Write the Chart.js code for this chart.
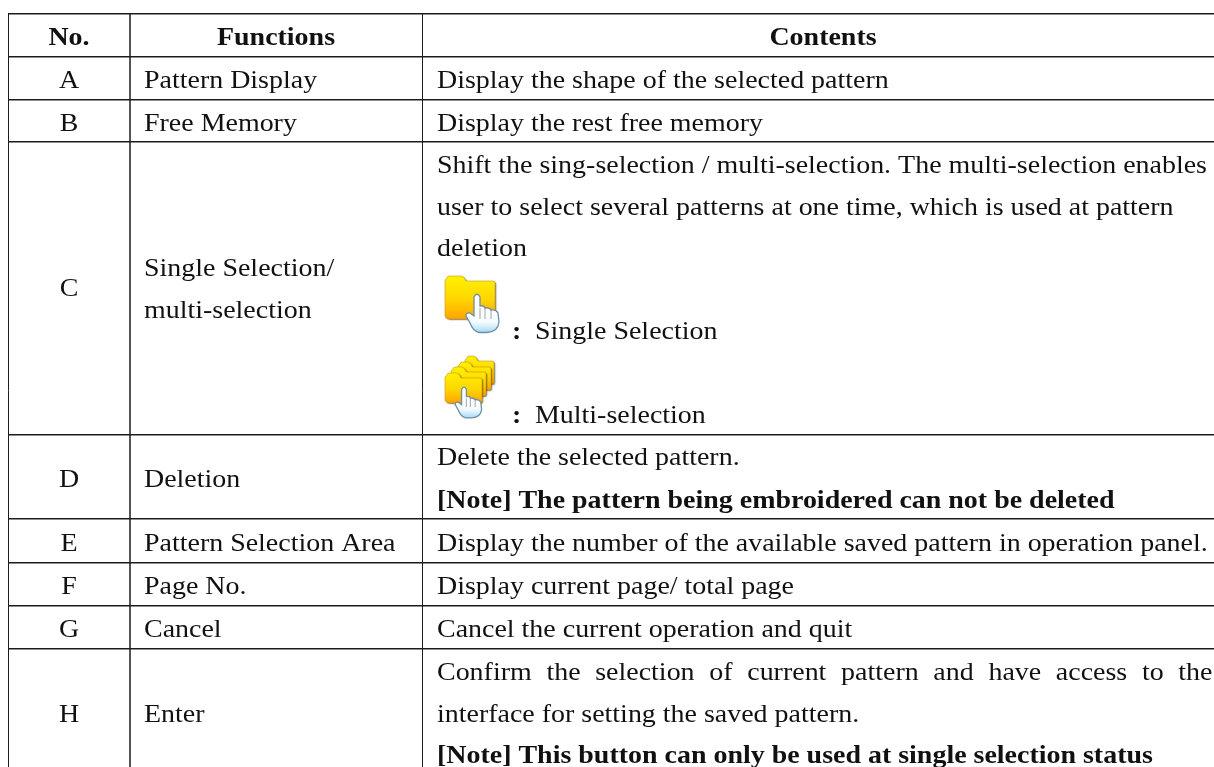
<!DOCTYPE html>
<html>
<head>
<meta charset="utf-8">
<title>Pattern functions</title>
<script src="https://cdn.jsdelivr.net/npm/chart.js@4/dist/chart.umd.min.js"></script>
<style>
  html, body { margin: 0; padding: 0; background: #fff; }
  canvas { display: block; }
</style>
</head>
<body>
<canvas id="chartTable" width="1214" height="767"></canvas>
<script>
// Table content
const headers = ['No.', 'Functions', 'Contents'];
const rowNos = ['A', 'B', 'C', 'D', 'E', 'F', 'G', 'H'];
const rowFunctions = [
  ['Pattern Display'],
  ['Free Memory'],
  ['Single Selection/', 'multi-selection'],
  ['Deletion'],
  ['Pattern Selection Area'],
  ['Page No.'],
  ['Cancel'],
  ['Enter']
];
const rowContents = [
  ['Display the shape of the selected pattern'],
  ['Display the rest free memory'],
  ['Shift the sing-selection / multi-selection. The multi-selection enables',
   'user to select several patterns at one time, which is used at pattern',
   'deletion'],
  ['Delete the selected pattern.', '[Note] The pattern being embroidered can not be deleted'],
  ['Display the number of the available saved pattern in operation panel.'],
  ['Display current page/ total page'],
  ['Cancel the current operation and quit'],
  ['Confirm the selection of current pattern and have access to the',
   'interface for setting the saved pattern.',
   '[Note] This button can only be used at single selection status']
];
const iconCaptions = ['Single Selection', 'Multi-selection'];

// Layout, in picture pixels (the axes run in the same units)
const colRules = [8.5, 130, 422.5];
const rowRules = [14, 57, 99.5, 142, 435, 519, 562.5, 605.5, 648.5];
const headerCentres = [69, 276, 823];
const headerBaseline = 44.5;
const noBaselines = [88, 130.5, 296, 487, 551, 594, 637, 722];
const funcBaselines = [[88], [130.5], [276, 318], [487], [551], [594], [637], [722]];
const contentBaselines = [[88], [130.5], [173, 215, 256], [465, 508], [551], [594], [637], [680, 722, 763]];
const noX = 69, funcX = 144, contentX = 437, colonX = 512, captionX = 535;
const captionBaselines = [339, 423];
const iconCentres = [{ x: 473, y: 306 }, { x: 473, y: 388 }];
const justifiedEnd = 1212.5;
const fontSize = 26, stretch = 1.075, inkColor = '#111';

function folder(ctx, x, y, w, h) {
  const tab = w * 0.38;
  const grad = ctx.createLinearGradient(0, y, 0, y + h);
  grad.addColorStop(0, '#fff200');
  grad.addColorStop(0.55, '#ffd500');
  grad.addColorStop(1, '#ffa400');
  ctx.beginPath();
  ctx.moveTo(x + 2, y + 2);
  ctx.quadraticCurveTo(x + 2, y, x + 5, y);
  ctx.lineTo(x + tab - 3, y);
  ctx.quadraticCurveTo(x + tab, y, x + tab + 2, y + 5);
  ctx.lineTo(x + w - 2, y + 5);
  ctx.quadraticCurveTo(x + w, y + 5, x + w, y + 7);
  ctx.lineTo(x + w, y + h - 2);
  ctx.quadraticCurveTo(x + w, y + h, x + w - 2, y + h);
  ctx.lineTo(x + 5, y + h);
  ctx.quadraticCurveTo(x, y + h, x, y + h - 4);
  ctx.lineTo(x, y + 4);
  ctx.closePath();
  ctx.fillStyle = grad;
  ctx.shadowColor = 'rgba(70,70,20,0.65)';
  ctx.shadowBlur = 1.5;
  ctx.shadowOffsetX = 1.2;
  ctx.shadowOffsetY = 1;
  ctx.fill();
  ctx.shadowColor = 'transparent';
  ctx.strokeStyle = 'rgba(190,130,0,0.7)';
  ctx.lineWidth = 0.7;
  ctx.stroke();
}

function hand(ctx, x, y, s) {
  // x, y: top of the index finger
  const p = (dx, dy) => [x + dx * s, y + dy * s];
  const grad = ctx.createLinearGradient(0, y + 16 * s, 0, y + 38 * s);
  grad.addColorStop(0, '#ffffff');
  grad.addColorStop(0.55, '#f4fbff');
  grad.addColorStop(1, '#a9dcf5');
  ctx.beginPath();
  ctx.moveTo(...p(-3, 3));
  ctx.quadraticCurveTo(...p(0, -2.5), ...p(3, 3));
  ctx.lineTo(...p(3, 12));
  ctx.quadraticCurveTo(...p(7, 11), ...p(8, 14));
  ctx.quadraticCurveTo(...p(12, 13), ...p(14, 16));
  ctx.quadraticCurveTo(...p(19, 15), ...p(21, 19));
  ctx.lineTo(...p(22, 28));
  ctx.quadraticCurveTo(...p(21, 38), ...p(10, 38.5));
  ctx.lineTo(...p(2, 38.5));
  ctx.quadraticCurveTo(...p(-4, 37), ...p(-7, 29));
  ctx.lineTo(...p(-11, 22));
  ctx.quadraticCurveTo(...p(-11, 18), ...p(-7, 19));
  ctx.lineTo(...p(-3, 22));
  ctx.closePath();
  ctx.fillStyle = grad;
  ctx.fill();
  ctx.strokeStyle = '#6f8ea3';
  ctx.lineWidth = 1.3;
  ctx.stroke();
  ctx.strokeStyle = 'rgba(130,140,150,0.65)';
  ctx.lineWidth = 1.2;
  [3, 8, 14].forEach(dx => {
    ctx.beginPath();
    ctx.moveTo(...p(dx, 14));
    ctx.lineTo(...p(dx, 25));
    ctx.stroke();
  });
}

function makeIcon(folders, handAt, handScale) {
  const c = document.createElement('canvas');
  c.width = 64;
  c.height = 68;
  const ctx = c.getContext('2d');
  folders.forEach(f => folder(ctx, ...f));
  hand(ctx, handAt[0], handAt[1], handScale);
  return c;
}

const singleIcon = makeIcon([[4, 4, 50, 43]], [36, 22], 1);
const multiIcon = makeIcon(
  [[24, 2, 29, 28], [17, 8, 33, 28], [10, 13, 35, 29], [4, 19, 37, 30]],
  [23, 33], 0.8
);

// Cell text is written on the canvas from the scales
const tableText = {
  id: 'tableText',
  afterDatasetsDraw(chart) {
    const { ctx, scales: { x, y } } = chart;
    const put = (text, px, py, opts = {}) => {
      ctx.save();
      ctx.font = `${opts.bold ? 'bold ' : ''}${fontSize}px "Liberation Serif", serif`;
      ctx.fillStyle = inkColor;
      ctx.textBaseline = 'alphabetic';
      let left = x.getPixelForValue(px);
      const top = y.getPixelForValue(py);
      const width = ctx.measureText(text).width * stretch;
      if (opts.centre) left -= width / 2;
      if (opts.justifyTo) {
        // spread the words out to the end of the cell
        const words = text.split(' ');
        const wordsWidth = words.reduce((s, w) => s + ctx.measureText(w).width * stretch, 0);
        const gap = (x.getPixelForValue(opts.justifyTo) - left - wordsWidth) / (words.length - 1);
        words.forEach(w => {
          ctx.setTransform(stretch, 0, 0, 1, left, top);
          ctx.fillText(w, 0, 0);
          left += ctx.measureText(w).width * stretch + gap;
        });
      } else {
        ctx.setTransform(stretch, 0, 0, 1, left, top);
        ctx.fillText(text, 0, 0);
      }
      ctx.restore();
    };

    headers.forEach((h, i) => put(h, headerCentres[i], headerBaseline, { bold: true, centre: true }));
    rowNos.forEach((no, i) => {
      put(no, noX, noBaselines[i], { centre: true });
      rowFunctions[i].forEach((t, j) => put(t, funcX, funcBaselines[i][j]));
      rowContents[i].forEach((t, j) => {
        put(t, contentX, contentBaselines[i][j], {
          bold: t.startsWith('[Note]'),
          justifyTo: t.startsWith('Confirm') ? justifiedEnd : null
        });
      });
    });
    iconCaptions.forEach((t, i) => {
      put(':', colonX, captionBaselines[i], { bold: true });
      put(t, captionX, captionBaselines[i]);
    });
  }
};

new Chart(document.getElementById('chartTable'), {
  type: 'scatter',
  plugins: [tableText],
  data: {
    datasets: [{
      data: iconCentres,
      pointStyle: [singleIcon, multiIcon],
      pointRadius: 1
    }]
  },
  options: {
    responsive: false,
    animation: false,
    events: [],
    layout: { autoPadding: false, padding: { left: 8, top: 14, right: 0, bottom: 0 } },
    plugins: {
      legend: { display: false },
      tooltip: { enabled: false }
    },
    scales: {
      x: {
        type: 'linear',
        min: 8,
        max: 1214,
        afterBuildTicks: axis => { axis.ticks = colRules.map(value => ({ value })); },
        ticks: { display: false },
        border: { display: false },
        grid: {
          drawTicks: false,
          color: ctx => ctx.tick && ctx.tick.value === colRules[1] ? '#555' : '#1c1c1c',
          lineWidth: ctx => ctx.tick && ctx.tick.value === colRules[1] ? 2 : 1
        }
      },
      y: {
        type: 'linear',
        reverse: true,
        min: 14,
        max: 767,
        afterBuildTicks: axis => { axis.ticks = rowRules.map(value => ({ value })); },
        ticks: { display: false },
        border: { display: false },
        grid: { drawTicks: false, color: '#1c1c1c', lineWidth: 1.5 }
      }
    }
  }
});
</script>
</body>
</html>
